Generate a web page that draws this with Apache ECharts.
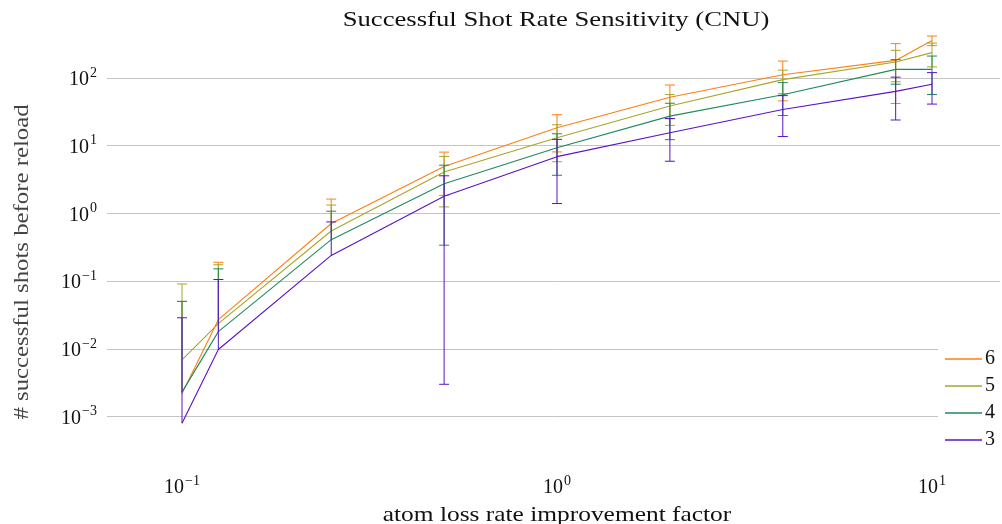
<!DOCTYPE html>
<html>
<head>
<meta charset="utf-8">
<title>Successful Shot Rate Sensitivity (CNU)</title>
<script src="https://cdn.jsdelivr.net/npm/echarts@6/dist/echarts.min.js"></script>
<style>
  html, body { margin: 0; padding: 0; background: #ffffff; }
  #chart { width: 1002px; height: 524px; }
</style>
</head>
<body>
<div id="chart"></div>
<script>
// atom loss rate improvement factors
const xVals = [0.1, 0.125, 0.25, 0.5, 1, 2, 4, 8, 10];

// mean successful shots before reload, and their standard deviations
const mean6 = [0.0022, 0.027, 0.71, 4.95, 18.4, 52, 112, 182, 359];
const err6  = [0.048, 0.163, 0.92, 3.1, 10.3, 26.9, 66, 140, 58];
const mean5 = [0.0069, 0.0236, 0.55, 4.1, 13.1, 38.5, 94.7, 172, 237];
const err5  = [0.084, 0.151, 0.78, 2.85, 7.3, 18.5, 36, 84, 91];
const mean4 = [0.0023, 0.018, 0.41, 2.75, 9.33, 27.35, 56.7, 134, 134];
const err4  = [0.048, 0.134, 0.67, 2.41, 5.67, 15.05, 28.8, 53, 77];
const mean3 = [0.0008, 0.0098, 0.24, 1.8, 6.9, 15.55, 34.3, 63.5, 80.7];
const err3  = [0.028, 0.096, 0.51, 1.797, 5.5, 9.65, 20.6, 39.5, 39.5];

const seriesNames = ['6', '5', '4', '3'];
const seriesMeans = [mean6, mean5, mean4, mean3];
const seriesErrs  = [err6, err5, err4, err3];
const seriesColors = ['#ff7f0e', '#a6a62a', '#1f8a5c', '#5a12c8'];

const titleText = 'Successful Shot Rate Sensitivity (CNU)';
const xName = 'atom loss rate improvement factor';
const yName = '# successful shots before reload';

const FONT = '"Liberation Serif", "DejaVu Serif", serif';

function powLabel(value) {
  const e = Math.round(Math.log10(value));
  if (Math.abs(Math.log10(value) - e) > 1e-6) return '';
  const s = e < 0 ? '\u2212' + (-e) : String(e);
  return '{b|10}{s|' + s + '}';
}

const labelRich = {
  b: { fontFamily: FONT, fontSize: 20, color: '#111', verticalAlign: 'bottom', lineHeight: 24 },
  s: { fontFamily: FONT, fontSize: 14, color: '#111', verticalAlign: 'top', padding: [0, 0, 8, 1], lineHeight: 24 }
};

// vertical error bar with caps; bars whose lower end falls below zero stop at the mean
function errorBarRenderer(color) {
  return function (params, api) {
    const x = api.value(0);
    const lo = api.value(1);
    const hi = api.value(2);
    const hasLow = api.value(3) === 1;
    const top = api.coord([x, hi]);
    const bot = api.coord([x, lo]);
    const half = 5;
    const style = { stroke: color, lineWidth: 1, fill: null };
    const children = [
      { type: 'line', shape: { x1: top[0], y1: top[1], x2: bot[0], y2: bot[1] }, style: style },
      { type: 'line', shape: { x1: top[0] - half, y1: top[1], x2: top[0] + half, y2: top[1] }, style: style }
    ];
    if (hasLow) {
      children.push({ type: 'line', shape: { x1: bot[0] - half, y1: bot[1], x2: bot[0] + half, y2: bot[1] }, style: style });
    }
    return { type: 'group', children: children };
  };
}

const series = [];
seriesNames.forEach(function (name, i) {
  const means = seriesMeans[i];
  const errs = seriesErrs[i];
  const color = seriesColors[i];
  series.push({
    name: name,
    type: 'line',
    data: xVals.map(function (x, j) { return [x, means[j]]; }),
    showSymbol: false,
    symbol: 'none',
    lineStyle: { color: color, width: 1.1 },
    itemStyle: { color: color },
    emphasis: { disabled: true },
    animation: false,
    z: 2 + i * 2
  });
  series.push({
    name: name,
    type: 'custom',
    renderItem: errorBarRenderer(color),
    data: xVals.map(function (x, j) {
      const low = means[j] - errs[j];
      const hasLow = low > 0;
      return [x, hasLow ? low : means[j], means[j] + errs[j], hasLow ? 1 : 0];
    }),
    encode: { x: 0, y: [1, 2] },
    itemStyle: { color: color },
    animation: false,
    silent: true,
    z: 3 + i * 2
  });
});

// serif labels set a little wider, in the spirit of Computer Modern
function wideText(text, x, y, scale, opts, color) {
  return Object.assign({
    type: 'text',
    x: x,
    y: y,
    scaleX: scale,
    silent: true,
    style: {
      text: text,
      x: 0,
      y: 0,
      align: 'center',
      verticalAlign: 'middle',
      fontFamily: FONT,
      fontSize: 21,
      fill: color || '#111'
    }
  }, opts || {});
}

const chart = echarts.init(document.getElementById('chart'), null, { renderer: 'canvas' });
chart.setOption({
  backgroundColor: '#ffffff',
  animation: false,
  grid: { left: 107, right: 2, top: 34, height: 430, outerBoundsMode: 'none', containLabel: false },
  xAxis: {
    type: 'log',
    logBase: 10,
    min: Math.pow(10, -1.2),
    max: Math.pow(10, 1.1813),
    axisLine: { show: false },
    axisTick: { show: false },
    splitLine: { show: false },
    axisLabel: {
      margin: 10,
      showMinLabel: false,
      showMaxLabel: false,
      formatter: powLabel,
      rich: labelRich
    }
  },
  yAxis: {
    type: 'log',
    logBase: 10,
    min: Math.pow(10, -3.7),
    max: Math.pow(10, 2.65),
    axisLine: { show: false },
    axisTick: { show: false },
    splitLine: { show: true, showMinLine: false, showMaxLine: false, lineStyle: { color: '#c4c4c4', width: 1 } },
    axisLabel: {
      margin: 10,
      showMinLabel: false,
      showMaxLabel: false,
      formatter: powLabel,
      rich: labelRich
    }
  },
  graphic: [
    wideText(titleText, 556, 20, 1.27),
    wideText(xName, 557, 515, 1.21),
    wideText(yName, 22, 262, 1.18, { rotation: Math.PI / 2 }, '#444')
  ],
  legend: {
    data: seriesNames.map(function (n) { return { name: n, icon: 'rect' }; }),
    orient: 'vertical',
    left: 938,
    top: 343,
    padding: [6, 8, 6, 7],
    itemWidth: 37,
    itemHeight: 1.5,
    itemGap: 7,
    backgroundColor: '#ffffff',
    selectedMode: false,
    textStyle: { fontFamily: FONT, fontSize: 20, color: '#111', lineHeight: 20, padding: [0, 0, 0, -2] }
  },
  series: series
});
</script>
</body>
</html>
